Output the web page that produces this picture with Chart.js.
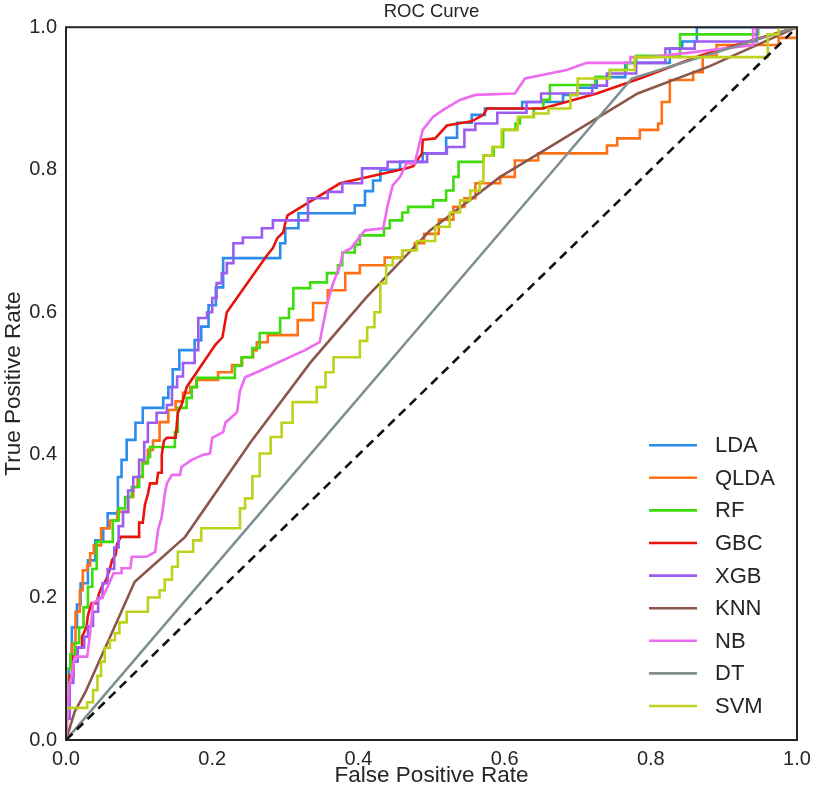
<!DOCTYPE html>
<html>
<head>
<meta charset="utf-8">
<script src="https://cdn.jsdelivr.net/npm/chart.js@4.4.1/dist/chart.umd.min.js"></script>
<style>
  html, body { margin: 0; padding: 0; background: #fff; }
  #wrap { width: 813px; height: 790px; }
</style>
</head>
<body>
<div id="wrap"><canvas id="roc" width="813" height="790"></canvas></div>
<script>
// ROC curves, [fpr, tpr] vertices
const modelNames = ['LDA', 'QLDA', 'RF', 'GBC', 'XGB', 'KNN', 'NB', 'DT', 'SVM'];

const lda = [[0,0],[0,0.04],[0.004,0.04],[0.004,0.1],[0.008,0.1],[0.008,0.158],[0.015,0.158],[0.015,0.19],[0.02,0.19],[0.02,0.22],[0.03,0.22],[0.03,0.252],[0.04,0.252],[0.04,0.28],[0.051,0.28],[0.051,0.297],[0.057,0.297],[0.057,0.318],[0.071,0.318],[0.071,0.369],[0.076,0.369],[0.076,0.393],[0.083,0.393],[0.083,0.421],[0.095,0.421],[0.095,0.445],[0.105,0.445],[0.105,0.466],[0.133,0.466],[0.133,0.48],[0.14,0.48],[0.14,0.495],[0.146,0.495],[0.146,0.52],[0.155,0.52],[0.155,0.547],[0.176,0.547],[0.176,0.561],[0.185,0.561],[0.185,0.58],[0.195,0.58],[0.195,0.61],[0.205,0.61],[0.205,0.635],[0.215,0.635],[0.215,0.676],[0.293,0.676],[0.293,0.697],[0.3,0.697],[0.3,0.718],[0.318,0.718],[0.318,0.739],[0.395,0.739],[0.395,0.75],[0.409,0.75],[0.409,0.77],[0.42,0.77],[0.42,0.785],[0.43,0.785],[0.43,0.8],[0.457,0.8],[0.457,0.811],[0.488,0.811],[0.488,0.823],[0.52,0.823],[0.52,0.845],[0.535,0.845],[0.535,0.866],[0.555,0.866],[0.555,0.877],[0.573,0.877],[0.573,0.886],[0.624,0.886],[0.624,0.895],[0.68,0.895],[0.68,0.905],[0.7,0.905],[0.7,0.915],[0.726,0.915],[0.726,0.93],[0.765,0.93],[0.765,0.95],[0.826,0.95],[0.826,0.97],[0.843,0.97],[0.843,0.98],[0.863,0.98],[0.863,1],[1,1]];

const qlda = [[0,0],[0,0.04],[0.004,0.04],[0.004,0.09],[0.008,0.09],[0.008,0.135],[0.013,0.135],[0.013,0.18],[0.019,0.18],[0.019,0.21],[0.023,0.21],[0.023,0.238],[0.029,0.238],[0.029,0.245],[0.033,0.245],[0.033,0.262],[0.038,0.262],[0.038,0.273],[0.048,0.273],[0.048,0.297],[0.06,0.297],[0.06,0.308],[0.07,0.308],[0.07,0.32],[0.085,0.32],[0.085,0.341],[0.092,0.341],[0.092,0.355],[0.098,0.355],[0.098,0.369],[0.105,0.369],[0.105,0.39],[0.112,0.39],[0.112,0.407],[0.119,0.407],[0.119,0.42],[0.128,0.42],[0.128,0.446],[0.14,0.446],[0.14,0.463],[0.15,0.463],[0.15,0.475],[0.16,0.475],[0.16,0.487],[0.17,0.487],[0.17,0.495],[0.178,0.495],[0.178,0.505],[0.208,0.505],[0.208,0.516],[0.227,0.516],[0.227,0.526],[0.241,0.526],[0.241,0.537],[0.256,0.537],[0.256,0.547],[0.261,0.547],[0.261,0.558],[0.276,0.558],[0.276,0.568],[0.317,0.568],[0.317,0.589],[0.338,0.589],[0.338,0.613],[0.358,0.613],[0.358,0.631],[0.382,0.631],[0.382,0.655],[0.402,0.655],[0.402,0.666],[0.436,0.666],[0.436,0.677],[0.46,0.677],[0.46,0.687],[0.477,0.687],[0.477,0.697],[0.49,0.697],[0.49,0.71],[0.51,0.71],[0.51,0.73],[0.53,0.73],[0.53,0.748],[0.545,0.748],[0.545,0.76],[0.56,0.76],[0.56,0.781],[0.594,0.781],[0.594,0.79],[0.614,0.79],[0.614,0.813],[0.646,0.813],[0.646,0.823],[0.74,0.823],[0.74,0.834],[0.754,0.834],[0.754,0.844],[0.785,0.844],[0.785,0.856],[0.81,0.856],[0.81,0.865],[0.815,0.865],[0.815,0.895],[0.826,0.895],[0.826,0.926],[0.858,0.926],[0.858,0.937],[0.871,0.937],[0.871,0.96],[0.89,0.96],[0.89,0.975],[0.975,0.975],[0.975,0.985],[1,0.985],[1,1]];

const rf = [[0,0],[0,0.1],[0.006,0.1],[0.006,0.12],[0.012,0.12],[0.012,0.136],[0.018,0.136],[0.018,0.158],[0.024,0.158],[0.024,0.186],[0.03,0.186],[0.03,0.215],[0.036,0.215],[0.036,0.24],[0.042,0.24],[0.042,0.278],[0.064,0.278],[0.064,0.308],[0.072,0.308],[0.072,0.325],[0.081,0.325],[0.081,0.341],[0.09,0.341],[0.09,0.355],[0.1,0.355],[0.1,0.37],[0.105,0.37],[0.105,0.388],[0.112,0.388],[0.112,0.397],[0.115,0.397],[0.115,0.411],[0.149,0.411],[0.149,0.432],[0.153,0.432],[0.153,0.466],[0.165,0.466],[0.165,0.48],[0.172,0.48],[0.172,0.495],[0.179,0.495],[0.179,0.508],[0.231,0.508],[0.231,0.525],[0.24,0.525],[0.24,0.537],[0.255,0.537],[0.255,0.55],[0.265,0.55],[0.265,0.571],[0.293,0.571],[0.293,0.592],[0.305,0.592],[0.305,0.605],[0.311,0.605],[0.311,0.634],[0.334,0.634],[0.334,0.642],[0.357,0.642],[0.357,0.655],[0.372,0.655],[0.372,0.666],[0.378,0.666],[0.378,0.684],[0.395,0.684],[0.395,0.695],[0.402,0.695],[0.402,0.708],[0.435,0.708],[0.435,0.718],[0.443,0.718],[0.443,0.729],[0.46,0.729],[0.46,0.74],[0.468,0.74],[0.468,0.748],[0.502,0.748],[0.502,0.757],[0.52,0.757],[0.52,0.771],[0.53,0.771],[0.53,0.79],[0.537,0.79],[0.537,0.811],[0.571,0.811],[0.571,0.82],[0.585,0.82],[0.585,0.832],[0.598,0.832],[0.598,0.856],[0.615,0.856],[0.615,0.865],[0.621,0.865],[0.621,0.874],[0.64,0.874],[0.64,0.886],[0.653,0.886],[0.653,0.898],[0.662,0.898],[0.662,0.919],[0.724,0.919],[0.724,0.93],[0.744,0.93],[0.744,0.94],[0.767,0.94],[0.767,0.95],[0.78,0.95],[0.78,0.96],[0.84,0.96],[0.84,0.99],[0.947,0.99],[0.947,1],[1,1]];

const gbc = [[0,0],[0,0.06],[0.005,0.06],[0.005,0.09],[0.01,0.09],[0.01,0.117],[0.016,0.117],[0.016,0.13],[0.022,0.13],[0.022,0.145],[0.028,0.158],[0.03,0.175],[0.035,0.192],[0.042,0.192],[0.045,0.205],[0.049,0.215],[0.055,0.225],[0.06,0.24],[0.063,0.252],[0.068,0.26],[0.07,0.275],[0.075,0.285],[0.1,0.285],[0.1,0.305],[0.105,0.305],[0.108,0.33],[0.112,0.345],[0.115,0.36],[0.124,0.36],[0.126,0.375],[0.131,0.375],[0.131,0.4],[0.134,0.42],[0.138,0.424],[0.15,0.424],[0.153,0.459],[0.158,0.47],[0.163,0.487],[0.165,0.495],[0.204,0.554],[0.214,0.565],[0.22,0.6],[0.275,0.68],[0.283,0.69],[0.289,0.704],[0.297,0.712],[0.3,0.725],[0.303,0.736],[0.375,0.781],[0.466,0.802],[0.475,0.805],[0.487,0.823],[0.488,0.842],[0.505,0.844],[0.521,0.862],[0.555,0.868],[0.571,0.877],[0.576,0.886],[0.652,0.886],[0.726,0.907],[0.785,0.928],[0.867,0.96],[1,1]];

const xgb = [[0,0],[0,0.03],[0.005,0.03],[0.005,0.08],[0.01,0.08],[0.01,0.11],[0.016,0.11],[0.016,0.13],[0.025,0.13],[0.025,0.145],[0.03,0.145],[0.03,0.16],[0.037,0.16],[0.037,0.18],[0.044,0.18],[0.044,0.2],[0.05,0.2],[0.05,0.22],[0.057,0.22],[0.057,0.24],[0.066,0.24],[0.066,0.27],[0.072,0.27],[0.072,0.3],[0.078,0.3],[0.078,0.32],[0.085,0.32],[0.085,0.35],[0.092,0.35],[0.092,0.369],[0.1,0.369],[0.1,0.393],[0.107,0.393],[0.107,0.418],[0.112,0.418],[0.112,0.445],[0.124,0.445],[0.124,0.459],[0.138,0.459],[0.138,0.47],[0.145,0.47],[0.145,0.495],[0.152,0.495],[0.152,0.51],[0.16,0.51],[0.16,0.529],[0.176,0.529],[0.176,0.547],[0.181,0.547],[0.181,0.592],[0.193,0.592],[0.193,0.6],[0.2,0.6],[0.2,0.62],[0.206,0.62],[0.206,0.641],[0.213,0.641],[0.213,0.655],[0.22,0.655],[0.22,0.669],[0.229,0.669],[0.229,0.697],[0.242,0.697],[0.242,0.705],[0.268,0.705],[0.268,0.718],[0.283,0.718],[0.283,0.729],[0.331,0.729],[0.331,0.76],[0.358,0.76],[0.358,0.769],[0.378,0.769],[0.378,0.781],[0.405,0.781],[0.405,0.802],[0.44,0.802],[0.44,0.811],[0.494,0.811],[0.494,0.823],[0.521,0.823],[0.521,0.832],[0.545,0.832],[0.545,0.856],[0.56,0.856],[0.56,0.865],[0.59,0.865],[0.59,0.88],[0.63,0.88],[0.63,0.895],[0.65,0.895],[0.65,0.907],[0.72,0.907],[0.72,0.918],[0.74,0.918],[0.74,0.935],[0.78,0.935],[0.78,0.95],[0.82,0.95],[0.82,0.97],[0.86,0.97],[0.86,0.98],[0.945,0.98],[0.945,1],[1,1]];

const knn = [[0,0],[0.012,0.04],[0.026,0.066],[0.094,0.222],[0.163,0.285],[0.252,0.417],[0.334,0.529],[0.41,0.62],[0.498,0.715],[0.594,0.79],[0.662,0.832],[0.782,0.907],[0.88,0.945],[1,1]];

const nb = [[0,0],[0.002,0.03],[0.004,0.075],[0.008,0.09],[0.012,0.117],[0.029,0.117],[0.033,0.15],[0.037,0.192],[0.05,0.2],[0.057,0.215],[0.065,0.234],[0.076,0.234],[0.076,0.241],[0.088,0.241],[0.09,0.257],[0.11,0.257],[0.122,0.264],[0.126,0.295],[0.131,0.313],[0.135,0.344],[0.138,0.36],[0.145,0.372],[0.156,0.372],[0.158,0.383],[0.172,0.393],[0.187,0.4],[0.197,0.402],[0.2,0.424],[0.215,0.432],[0.218,0.445],[0.234,0.46],[0.238,0.49],[0.245,0.509],[0.261,0.516],[0.327,0.547],[0.347,0.558],[0.357,0.61],[0.365,0.64],[0.375,0.666],[0.379,0.684],[0.39,0.69],[0.409,0.715],[0.434,0.718],[0.44,0.75],[0.447,0.778],[0.457,0.79],[0.466,0.809],[0.477,0.809],[0.488,0.856],[0.502,0.874],[0.516,0.884],[0.539,0.898],[0.56,0.905],[0.614,0.907],[0.628,0.928],[0.685,0.94],[0.712,0.95],[0.772,0.95],[0.772,0.958],[0.8,0.958],[0.94,0.975],[0.94,1],[1,1]];

const dt = [[0,0],[0.774,0.928],[1,1]];

const svm = [[0,0],[0,0.045],[0.029,0.045],[0.029,0.053],[0.037,0.053],[0.037,0.07],[0.043,0.07],[0.043,0.09],[0.048,0.09],[0.048,0.11],[0.053,0.11],[0.053,0.129],[0.06,0.129],[0.06,0.14],[0.067,0.14],[0.067,0.15],[0.073,0.15],[0.073,0.165],[0.083,0.165],[0.083,0.18],[0.112,0.18],[0.112,0.2],[0.128,0.2],[0.128,0.21],[0.135,0.21],[0.135,0.225],[0.145,0.225],[0.145,0.243],[0.153,0.243],[0.153,0.264],[0.174,0.264],[0.174,0.28],[0.185,0.28],[0.185,0.297],[0.238,0.297],[0.238,0.325],[0.245,0.325],[0.245,0.339],[0.255,0.339],[0.255,0.37],[0.265,0.37],[0.265,0.402],[0.28,0.402],[0.28,0.425],[0.295,0.425],[0.295,0.445],[0.31,0.445],[0.31,0.474],[0.343,0.474],[0.343,0.495],[0.355,0.495],[0.355,0.516],[0.366,0.516],[0.366,0.537],[0.402,0.537],[0.402,0.56],[0.412,0.56],[0.412,0.579],[0.422,0.579],[0.422,0.6],[0.43,0.6],[0.43,0.641],[0.438,0.641],[0.438,0.666],[0.447,0.666],[0.447,0.676],[0.46,0.676],[0.46,0.687],[0.48,0.687],[0.48,0.7],[0.505,0.7],[0.505,0.72],[0.525,0.72],[0.525,0.74],[0.539,0.74],[0.539,0.757],[0.553,0.757],[0.553,0.771],[0.566,0.771],[0.566,0.783],[0.571,0.783],[0.571,0.82],[0.583,0.82],[0.583,0.832],[0.596,0.832],[0.596,0.856],[0.618,0.856],[0.618,0.874],[0.639,0.874],[0.639,0.879],[0.66,0.879],[0.66,0.886],[0.69,0.886],[0.69,0.905],[0.7,0.905],[0.7,0.928],[0.744,0.928],[0.744,0.94],[0.778,0.94],[0.778,0.958],[0.96,0.958],[0.96,0.99],[0.975,0.99],[0.975,1],[1,1]];

const chanceLine = [[0,0],[1,1]];
const curves = [lda, qlda, rf, gbc, xgb, knn, nb, dt, svm];
const lineColors = ['#2b8cea', '#ff7114', '#3ddc0c', '#e8130c', '#9b5cf2', '#8c564b', '#ee6af0', '#7f8f8f', '#bed11c'];

Chart.defaults.font.family = '"Liberation Sans", Arial, sans-serif';
Chart.defaults.color = '#262626';

const toXY = pts => pts.map(p => ({ x: p[0], y: p[1] }));

const datasets = curves.map((pts, i) => ({
    label: modelNames[i],
    data: toXY(pts),
    borderColor: lineColors[i],
    borderWidth: 2.6,
    pointRadius: 0,
    fill: false,
    tension: 0,
    order: curves.length - i + 1,
}));
datasets.push({
    label: 'chance',
    data: toXY(chanceLine),
    borderColor: '#111',
    borderWidth: 2.6,
    borderDash: [9, 6],
    pointRadius: 0,
    fill: false,
    order: 0,
});

// box around the plot area
const frame = {
    id: 'frame',
    afterDatasetsDraw(chart) {
        const { ctx, chartArea: a } = chart;
        ctx.save();
        ctx.strokeStyle = '#262626';
        ctx.lineWidth = 2;
        ctx.strokeRect(a.left, a.top, a.right - a.left, a.bottom - a.top);
        ctx.restore();
    }
};

// legend drawn inside the lower right of the plot, like matplotlib's
const insideLegend = {
    id: 'insideLegend',
    afterDraw(chart) {
        const { ctx, chartArea: a } = chart;
        const n = modelNames.length;
        ctx.save();
        ctx.font = '22px "Liberation Sans", Arial, sans-serif';
        ctx.textBaseline = 'middle';
        ctx.fillStyle = '#262626';
        for (let i = 0; i < n; i++) {
            const y = a.bottom - 34 - (n - 1 - i) * 32.6;
            ctx.strokeStyle = lineColors[i];
            ctx.lineWidth = 2.6;
            ctx.beginPath();
            ctx.moveTo(a.right - 148, y);
            ctx.lineTo(a.right - 100, y);
            ctx.stroke();
            ctx.fillText(modelNames[i], a.right - 82, y + 1);
        }
        ctx.restore();
    }
};

const tickFmt = v => Number(v).toFixed(1);

new Chart(document.getElementById('roc'), {
    type: 'line',
    data: { datasets },
    options: {
        responsive: false,
        animation: false,
        events: [],
        layout: { padding: { left: 0, right: 16, top: 0, bottom: 0 } },
        plugins: {
            legend: { display: false },
            tooltip: { enabled: false },
            title: {
                display: true,
                fullSize: false,
                text: 'ROC Curve',
                color: '#262626',
                font: { size: 18.5, weight: 'normal' },
                padding: { top: 1, bottom: 4 },
            },
        },
        scales: {
            x: {
                type: 'linear',
                min: 0,
                max: 1,
                afterFit: s => { s.height = 50; s.paddingLeft = 0; s.paddingRight = 0; },
                grid: { display: false, drawTicks: false },
                border: { display: false },
                ticks: { stepSize: 0.2, padding: 7, font: { size: 20 }, callback: tickFmt, maxRotation: 0 },
                title: { display: true, text: 'False Positive Rate', font: { size: 22.5 }, padding: { top: 0, bottom: 0.5 } },
            },
            y: {
                type: 'linear',
                min: 0,
                max: 1,
                afterFit: s => { s.width = 66; },
                grid: { display: false, drawTicks: false },
                border: { display: false },
                ticks: { stepSize: 0.2, padding: 9, font: { size: 20 }, callback: tickFmt },
                title: { display: true, text: 'True Positive Rate', font: { size: 22.5 }, padding: { top: 0, bottom: 0 } },
            },
        },
    },
    plugins: [frame, insideLegend],
});
</script>
</body>
</html>
